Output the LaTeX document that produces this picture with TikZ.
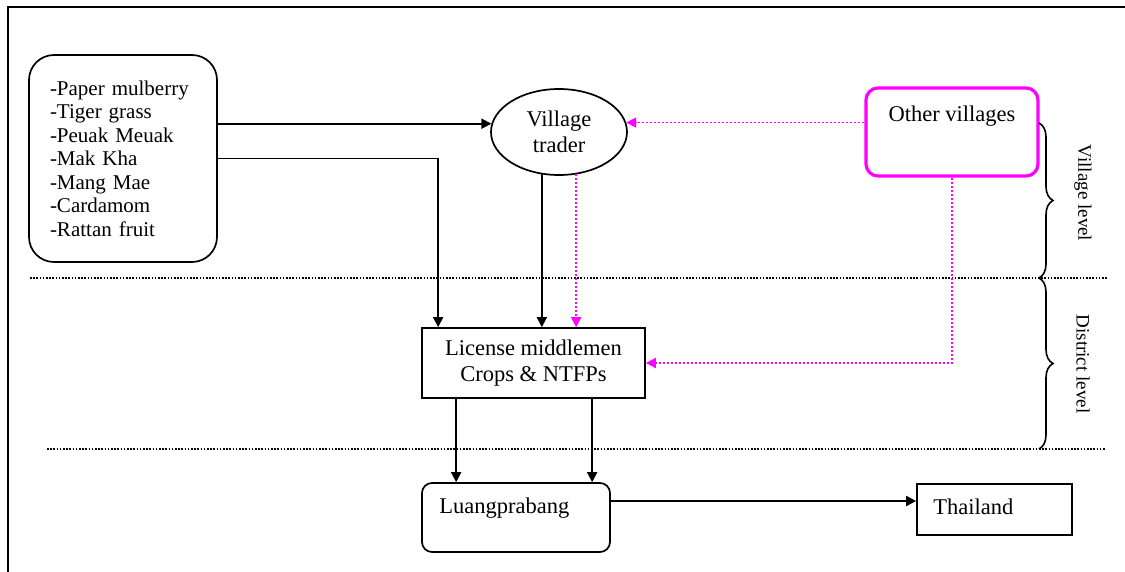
\documentclass[tikz,border=0pt]{standalone}
\usepackage{fontspec}
\setmainfont{Liberation Serif}
\usetikzlibrary{arrows.meta,shapes.geometric,decorations.pathreplacing}
\definecolor{flowpink}{RGB}{255,0,255}

\begin{document}
\begin{tikzpicture}[x=1pt,y=-1pt,
  every node/.style={font=\fontsize{22.5}{26}\selectfont, inner sep=0pt},
  box/.style={draw, line width=1.7pt},
  arr/.style={-{Triangle[length=10pt,width=10pt]}, line width=1.8pt},
  pinkarr/.style={arr, draw=flowpink, dash pattern=on 2pt off 2pt},
  levelline/.style={dash pattern=on 1.6pt off 1.6pt, line width=1.7pt},
  grp/.style={decorate, decoration={brace, amplitude=14pt}, line width=1.6pt},
  levtext/.style={rotate=-90, font=\fontsize{19}{22}\selectfont},
  ]
\useasboundingbox (0,0) rectangle (1125,572);

% outer frame (top and left edges)
\draw[line width=2.4pt] (8,572) -- (8,7) -- (1125,7);

% product list
\node[box, rounded corners=25pt, minimum width=188pt, minimum height=207pt,
      text width=146pt, align=left, inner xsep=21pt,
      font=\fontsize{21}{23.5}\selectfont] (prod) at (123,158.5)
  {-Paper mulberry\\-Tiger grass\\-Peuak Meuak\\-Mak Kha\\-Mang Mae\\-Cardamom\\-Rattan fruit};

% traders and markets
\node[box, ellipse, minimum width=136pt, minimum height=86pt, align=center] (trader)
  at (559,132) {Village\\trader};
\node[draw=flowpink, line width=3.2pt, rounded corners=12pt, minimum width=172pt,
      minimum height=88pt, label={[anchor=center, yshift=16pt]center:Other villages}] (other)
  at (952,132) {};
\node[box, minimum width=223pt, minimum height=70pt, align=center] (lic)
  at (533.5,363) {License middlemen\\Crops \& NTFPs};
\node[box, rounded corners=10pt, minimum width=188pt, minimum height=69pt,
      label={[anchor=west, xshift=18pt, yshift=9.5pt]west:Luangprabang}] (luang)
  at (516,517.5) {};
\node[box, minimum width=155pt, minimum height=51pt,
      label={[anchor=west, xshift=17pt, yshift=2.5pt]west:Thailand}] (thai)
  at (994.5,509.5) {};

% level separators and braces
\draw[levelline] (30,278) -- (1107,278);
\draw[levelline] (47,449) -- (1105,449);
\draw[grp] (1039,123) -- (1039,278);
\draw[grp] (1039,278) -- (1039,449);
\node[levtext] (vlev) at (1083,193) {Village level};
\node[levtext] (dlev) at (1083,364) {District level};

% flows
\draw[arr] (prod.east |- trader.173) -- (trader.173);
\draw[arr] (prod.east) -| ([xshift=17pt]lic.north west);
\draw[arr] (trader.248) -- (trader.248 |- lic.north);
\draw[pinkarr] (trader.292) -- (trader.292 |- lic.north);
\draw[pinkarr] (other.west |- trader.8) -- (trader.8);
\draw[pinkarr] (other.south) |- (lic.east);
\coordinate (l1) at ([xshift=35pt]lic.south west);
\coordinate (l2) at ([xshift=171pt]lic.south west);
\draw[arr] (l1) -- (l1 |- luang.north);
\draw[arr] (l2) -- (l2 |- luang.north);
\coordinate (l3) at ([yshift=16.5pt]luang.east);
\draw[arr] (l3) -- (l3 -| thai.west);
\end{tikzpicture}
\end{document}
